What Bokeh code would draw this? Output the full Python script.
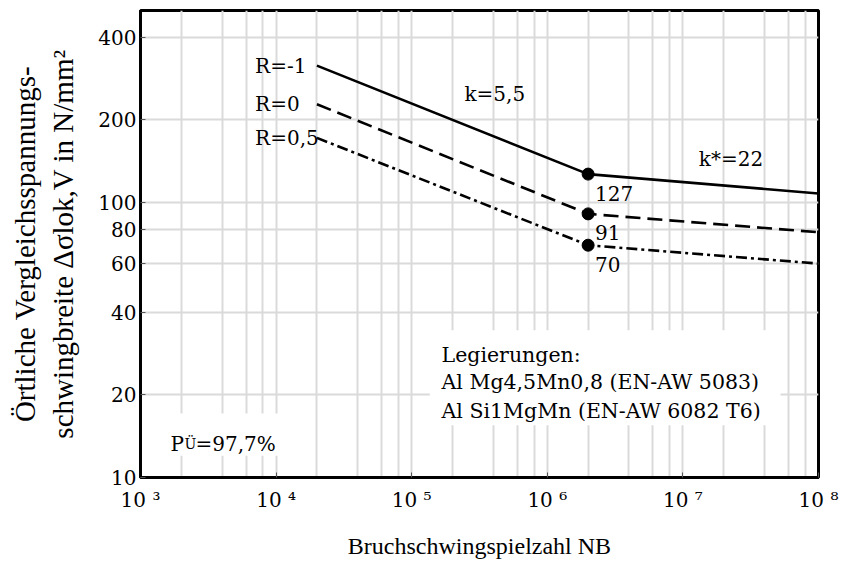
from bokeh.plotting import figure
from bokeh.models import FixedTicker, Label, BoxAnnotation, NumeralTickFormatter
from bokeh.embed import file_html
from bokeh.resources import INLINE

# ---- data ----
cycles = [2e4, 2e6, 1e8]
r_minus1 = [315, 127, 108]
r_0 = [228, 91, 78]
r_05 = [172, 70, 60]
knee_cycles = [2e6, 2e6, 2e6]
knee_values = [127, 91, 70]
knee_labels = ["127", "91", "70"]
x_decades = [1e3, 1e4, 1e5, 1e6, 1e7, 1e8]
x_tick_labels = ["10 ³", "10 ⁴", "10 ⁵", "10 ⁶", "10 ⁷", "10 ⁸"]
x_minor = [m * d for d in [1e3, 1e4, 1e5, 1e6, 1e7] for m in (2, 4, 6, 8)]
y_ticks = [10, 20, 40, 60, 80, 100, 200, 400]

AXIS_FONT = "Liberation Serif, Times New Roman, serif"
FONT = "DejaVu Serif"

p = figure(width=850, height=565, x_axis_type="log", y_axis_type="log",
           x_range=(1e3, 1e8), y_range=(10, 500),
           output_backend="svg", toolbar_location=None,
           min_border_left=140, min_border_right=32,
           min_border_top=10, min_border_bottom=88)
p.background_fill_color = "white"
p.border_fill_color = "white"
p.outline_line_color = "black"
p.outline_line_width = 3

# axes
p.xaxis.ticker = FixedTicker(ticks=x_decades, minor_ticks=[])
p.xaxis.major_label_overrides = dict(zip(x_decades, x_tick_labels))
p.yaxis.ticker = FixedTicker(ticks=y_ticks, minor_ticks=[])
p.yaxis.formatter = NumeralTickFormatter(format="0")
for ax in (p.xaxis, p.yaxis):
    ax.axis_line_color = "black"
    ax.axis_line_width = 3
    ax.major_tick_in = 5
    ax.major_tick_out = 0
    ax.major_tick_line_color = "#555555"
    ax.minor_tick_line_color = None
    ax.major_label_text_font = FONT
    ax.major_label_text_font_size = "20px"
    ax.major_label_text_font_style = "normal"
    ax.major_label_text_color = "black"
    ax.axis_label_text_font = AXIS_FONT
    ax.axis_label_text_font_style = "normal"
    ax.axis_label_text_color = "black"
p.xaxis.major_label_standoff = 10
p.yaxis.major_label_standoff = 4
p.xaxis.axis_label = "Bruchschwingspielzahl NB"
p.xaxis.axis_label_text_font_size = "24px"
p.xaxis.axis_label_standoff = 18
p.yaxis.axis_label = "Örtliche Vergleichsspannungs-\nschwingbreite Δσlok,V in N/mm²"
p.yaxis.axis_label_text_font_size = "29px"
p.yaxis.axis_label_standoff = 16

# grid
p.xgrid.ticker = FixedTicker(ticks=sorted(x_decades + x_minor))
p.ygrid.ticker = FixedTicker(ticks=y_ticks)
for g in (p.xgrid, p.ygrid):
    g.grid_line_color = "#dadada"
    g.grid_line_width = 2

# lines
p.line(cycles, r_minus1, line_color="black", line_width=2.6)
p.line(cycles, r_0, line_color="black", line_width=2.6, line_dash="15 7")
p.line(cycles, r_05, line_color="black", line_width=2.6, line_dash="11 4 3 4")
p.scatter(knee_cycles, knee_values, size=12, color="black")

def lab(x, y, text, size=20, xu="data", yu="data", align="left", base="middle",
        xo=0, yo=0):
    l = Label(x=x, y=y, text=text, x_units=xu, y_units=yu, text_align=align,
              text_baseline=base, x_offset=xo, y_offset=yo,
              text_font=FONT, text_font_size=f"{size}px",
              text_font_style="normal", text_color="black")
    p.add_layout(l)
    return l

# curve labels
lab(7e3, r_minus1[0], "R=-1")
lab(7e3, r_0[0], "R=0")
lab(7e3, r_05[0], "R=0,5")
lab(2.45e5, 249, "k=5,5")
lab(1.31e7, 144, "k*=22")
for xc, yv, t in zip(knee_cycles, knee_values, knee_labels):
    lab(xc, yv, t, xo=7, yo=-19)

# legend box
p.add_layout(BoxAnnotation(left=1.36e5, right=5.25e7, bottom=15.5, top=34.3,
                           fill_color="white", fill_alpha=1.0, line_color=None))
lab(1.66e5, 27.8, "Legierungen:", size=20.5)
lab(1.66e5, 22.2, "Al Mg4,5Mn0,8 (EN-AW 5083)", size=20.5)
lab(1.66e5, 17.5, "Al Si1MgMn (EN-AW 6082 T6)", size=20.5)

# P_U box
p.add_layout(BoxAnnotation(left=1.48e3, right=1.1e4, bottom=12.0, top=17.1,
                           fill_color="white", fill_alpha=1.0, line_color=None))
lab(30, 34, "P", xu="screen", yu="screen", base="alphabetic")
lab(44, 34, "Ü", size=14, xu="screen", yu="screen", base="alphabetic")
lab(55, 34, "=97,7%", xu="screen", yu="screen", base="alphabetic")

open("out.html", "w").write(file_html(p, INLINE))
